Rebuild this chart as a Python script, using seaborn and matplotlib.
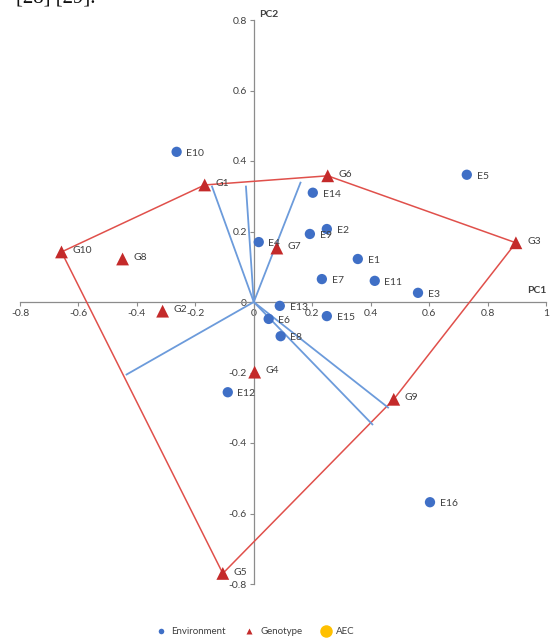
import numpy as np
import pandas as pd
import matplotlib
matplotlib.use("Agg")
import matplotlib.pyplot as plt
from matplotlib.lines import Line2D
import seaborn as sns

# Environment scores (PC1, PC2)
env_names = ["E1", "E2", "E3", "E4", "E5", "E6", "E7", "E8", "E9", "E10",
             "E11", "E12", "E13", "E14", "E15", "E16"]
env_pc1 = [0.356, 0.250, 0.562, 0.017, 0.729, 0.051, 0.233, 0.092, 0.192, -0.264,
           0.414, -0.089, 0.089, 0.202, 0.250, 0.603]
env_pc2 = [0.122, 0.207, 0.026, 0.170, 0.361, -0.048, 0.065, -0.097, 0.193, 0.426,
           0.060, -0.256, -0.011, 0.310, -0.040, -0.568]

# Genotype scores (PC1, PC2)
gen_names = ["G1", "G2", "G3", "G4", "G5", "G6", "G7", "G8", "G9", "G10"]
gen_pc1 = [-0.168, -0.312, 0.897, 0.003, -0.106, 0.253, 0.079, -0.449, 0.479, -0.658]
gen_pc2 = [0.332, -0.026, 0.168, -0.199, -0.770, 0.358, 0.153, 0.122, -0.276, 0.142]

# Vertices of the which-won-where polygon, in drawing order
hull_order = ["G1", "G6", "G3", "G9", "G5", "G10", "G1"]

# End points of the sector rays drawn from the origin
ray_pc1 = [-0.144, -0.027, 0.161, 0.462, 0.408, -0.438]
ray_pc2 = [0.330, 0.330, 0.341, -0.301, -0.349, -0.207]

x_ticks = [-0.8, -0.6, -0.4, -0.2, 0, 0.2, 0.4, 0.6, 0.8, 1]
y_ticks = [-0.8, -0.6, -0.4, -0.2, 0, 0.2, 0.4, 0.6, 0.8]

env = pd.DataFrame({"name": env_names, "PC1": env_pc1, "PC2": env_pc2})
gen = pd.DataFrame({"name": gen_names, "PC1": gen_pc1, "PC2": gen_pc2})
hull = gen.set_index("name").loc[hull_order].reset_index()

sns.set_theme(style="white")
plt.rcParams["font.family"] = ["Lato", "DejaVu Sans"]

BLUE = "#3F6FC6"
RED = "#C42A2A"
POLY = "#E0504B"
RAY = "#6C9BDB"
TEXT = "#404040"

fig = plt.figure(figsize=(5.5, 6.39), dpi=100)
ax = fig.add_axes([20 / 550, 1 - 584 / 639, 526 / 550, 564 / 639])

# polygon joining the outermost genotypes
sns.lineplot(data=hull, x="PC1", y="PC2", sort=False, estimator=None,
             color=POLY, linewidth=1.1, ax=ax, zorder=2)

# rays from the origin perpendicular to the polygon sides
for x1, y1 in zip(ray_pc1, ray_pc2):
    ax.plot([0, x1], [0, y1], color=RAY, linewidth=1.3, zorder=2,
            solid_capstyle="butt")

sns.scatterplot(data=env, x="PC1", y="PC2", color=BLUE, marker="o", s=55,
                edgecolor="none", ax=ax, zorder=4)
sns.scatterplot(data=gen, x="PC1", y="PC2", color=RED, marker="^", s=85,
                edgecolor="none", ax=ax, zorder=4)

for n, x, y in zip(env_names, env_pc1, env_pc2):
    ax.annotate(n, (x, y), xytext=(7, -1), textcoords="offset points",
                fontsize=7.5, color=TEXT, va="center", ha="left", zorder=5)
for n, x, y in zip(gen_names, gen_pc1, gen_pc2):
    ax.annotate(n, (x, y), xytext=(8, 1), textcoords="offset points",
                fontsize=7.5, color=TEXT, va="center", ha="left", zorder=5)

ax.set_xlim(-0.8, 1.0)
ax.set_ylim(-0.8, 0.8)
ax.set_xticks(x_ticks)
ax.set_yticks(y_ticks)
ax.set_xticklabels([f"{v:g}" for v in x_ticks])
ax.set_yticklabels([f"{v:g}" for v in y_ticks])
ax.set_xlabel("")
ax.set_ylabel("")

ax.spines["left"].set_position(("data", 0))
ax.spines["bottom"].set_position(("data", 0))
ax.spines["top"].set_visible(False)
ax.spines["right"].set_visible(False)
for s in ("left", "bottom"):
    ax.spines[s].set_color("#8C8C8C")
    ax.spines[s].set_linewidth(0.9)
    ax.spines[s].set_zorder(1)
ax.tick_params(axis="both", which="both", direction="out", length=3, width=0.8,
               color="#8C8C8C", labelsize=7.5, labelcolor=TEXT, pad=2,
               bottom=True, left=True)
ax.patch.set_alpha(0)

ax.text(0.935, 0.02, "PC1", fontsize=7.5, fontweight="bold", color=TEXT,
        ha="left", va="bottom")
ax.text(0.02, 0.802, "PC2", fontsize=7.5, fontweight="bold", color=TEXT,
        ha="left", va="bottom")

handles = [
    Line2D([], [], linestyle="none", marker="o", markersize=4,
           markerfacecolor=BLUE, markeredgecolor="none"),
    Line2D([], [], linestyle="none", marker="^", markersize=5,
           markerfacecolor=RED, markeredgecolor="none"),
    Line2D([], [], linestyle="none", marker="o", markersize=9,
           markerfacecolor="#FFC000", markeredgecolor="none"),
]
fig.legend(handles, ["Environment", "Genotype", "AEC"], loc="center",
           bbox_to_anchor=(253 / 550, 1 - 632 / 639), ncol=3, frameon=False,
           fontsize=7, handletextpad=0.1, columnspacing=1.4,
           labelcolor=TEXT)

# citation fragment at the top edge
fig.text(0.03, 1.018, "[28] [29].", fontsize=15, family="Liberation Serif",
         color="#111111", ha="left", va="top")

fig.savefig("out.png", dpi=100)
